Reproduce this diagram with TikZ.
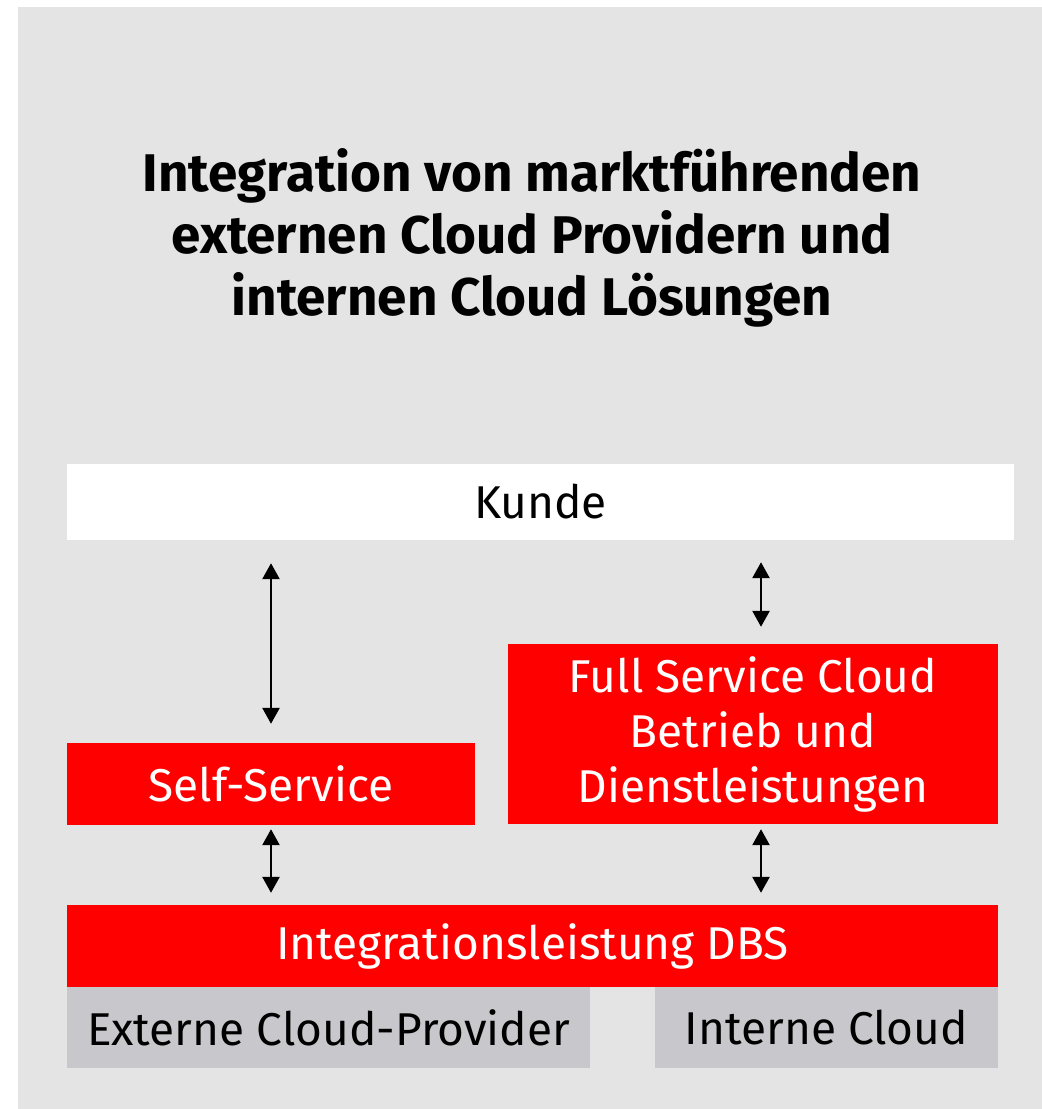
\documentclass[tikz,border=0pt]{standalone}
\usepackage{fontspec}
\setmainfont{Fira Sans}
\usetikzlibrary{arrows.meta, positioning, calc}
\definecolor{bggray}{HTML}{E4E4E4}
\definecolor{dbred}{HTML}{FF0000}
\definecolor{boxgray}{HTML}{C8C8CC}
\tikzset{%
	box/.style={rectangle, inner sep=0pt, align=center,%
		font=\fontsize{46}{55}\selectfont},
	redbox/.style={box, fill=dbred, text=white},
	whitebox/.style={box, fill=white, text=black},
	graybox/.style={box, fill=boxgray, text=black},
	headline/.style={align=center, font=\fontsize{53}{62}\selectfont\bfseries},
	dblarrow/.style={{Triangle[width=17pt,length=16pt]}-{Triangle[width=17pt,length=16pt]}, line width=2.6pt}
}
\begin{document}
\begin{tikzpicture}[x=1pt, y=-1pt]
	\useasboundingbox (0,0) rectangle (1042,1109);
	\fill[bggray] (18,7) rectangle (1042,1109);

	\node[headline] (title) at (532,238) {Integration von marktführenden\\externen Cloud Providern und\\internen Cloud Lösungen};

	\node[whitebox, minimum width=947pt, minimum height=76pt] (kunde) at (540.5,502) {Kunde};
	\node[redbox, minimum width=408pt, minimum height=82pt] (self) at (271,784) {Self-Service};
	\node[redbox, minimum width=490pt, minimum height=180pt] (full) at (753,734) {Full Service Cloud\\Betrieb und\\Dienstleistungen};
	\node[redbox, minimum width=931pt, minimum height=82pt] (integ) at (532.5,946) {Integrationsleistung DBS};
	\node[graybox, minimum width=523pt, minimum height=81pt] (extern) at (328.5,1027.5) {Externe Cloud-Provider};
	\node[graybox, minimum width=343pt, minimum height=81pt] (intern) at (826.5,1027.5) {Interne Cloud};

	\draw[dblarrow, shorten <=23pt, shorten >=19pt] (self.north |- kunde.south) -- (self.north);
	\draw[dblarrow, shorten <=22pt, shorten >=17pt] ([xshift=8pt]full.north |- kunde.south) -- ([xshift=8pt]full.north);
	\draw[dblarrow, shorten <=4pt, shorten >=12pt] (self.south) -- (self.south |- integ.north);
	\draw[dblarrow, shorten <=5pt, shorten >=12pt] ([xshift=8pt]full.south) -- ([xshift=8pt]full.south |- integ.north);
\end{tikzpicture}
\end{document}
